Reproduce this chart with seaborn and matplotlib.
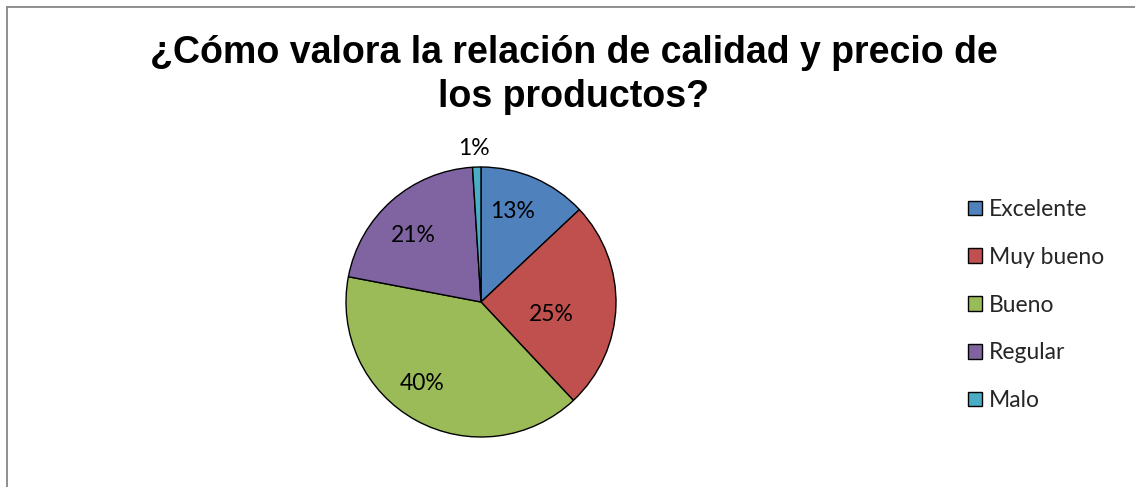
import matplotlib
matplotlib.use('Agg')
import matplotlib.pyplot as plt
import numpy as np
import seaborn as sns
from matplotlib.lines import Line2D

# ──────────────────────────────────────────────
# DATOS
# ──────────────────────────────────────────────
categorias = ["Excelente", "Muy bueno", "Bueno", "Regular", "Malo"]
porcentajes = [13, 25, 40, 21, 1]
colores = ["#4F81BD", "#C0504D", "#9BBB59", "#8064A2", "#4BACC6"]
titulo = "¿Cómo valora la relación de calidad y precio de\nlos productos?"

# distancia de cada etiqueta al centro (en radios) y giro extra (grados)
dist_etiquetas = [0.71, 0.53, 0.74, 0.70, 1.14]
giro_etiquetas = [4, -8, -7, 4, 1]

sns.set_theme(style="white")
plt.rcParams['font.family'] = ['Lato', 'DejaVu Sans']

W, H = 1135, 487
fig = plt.figure(figsize=(W / 100, H / 100), dpi=100)
fig.patch.set_facecolor("white")

# marco gris (solo arriba e izquierda visibles)
y_top = 1 - 6.5 / H
x_left = 6.5 / W
fig.lines.append(Line2D([x_left, 1.0], [y_top, y_top], transform=fig.transFigure,
                        color="#868686", linewidth=1.3))
fig.lines.append(Line2D([x_left, x_left], [0.0, y_top], transform=fig.transFigure,
                        color="#868686", linewidth=1.3))

# ejes del pastel: centro (481, 302), radio 135 px
r = 135
ax = fig.add_axes([(481 - r) / W, (H - 302 - r) / H, 2 * r / W, 2 * r / H])
wedges, _ = ax.pie(porcentajes, colors=colores, startangle=90, counterclock=False,
                   radius=1.0, wedgeprops=dict(edgecolor="black", linewidth=1.0))
ax.set_xlim(-1, 1)
ax.set_ylim(-1, 1)
ax.set_aspect("equal")
ax.axis("off")

for w, p, d, g in zip(wedges, porcentajes, dist_etiquetas, giro_etiquetas):
    ang = np.deg2rad((w.theta1 + w.theta2) / 2 + g)
    ax.text(d * np.cos(ang), d * np.sin(ang), f"{p}%", ha="center", va="center",
            fontsize=16.5, color="black")

fig.text(574 / W, 1 - 75 / H, titulo, ha="center", va="center",
         fontsize=27, fontweight="bold", family="Liberation Sans",
         linespacing=1.27, color="black")

fig.legend(wedges, categorias, loc="center left", bbox_to_anchor=(0.845, 1 - 305 / H),
           frameon=False, fontsize=16.5, handlelength=0.6, handleheight=0.6,
           handletextpad=0.3, labelspacing=1.17, borderaxespad=0)

plt.savefig("out.png", dpi=100)
